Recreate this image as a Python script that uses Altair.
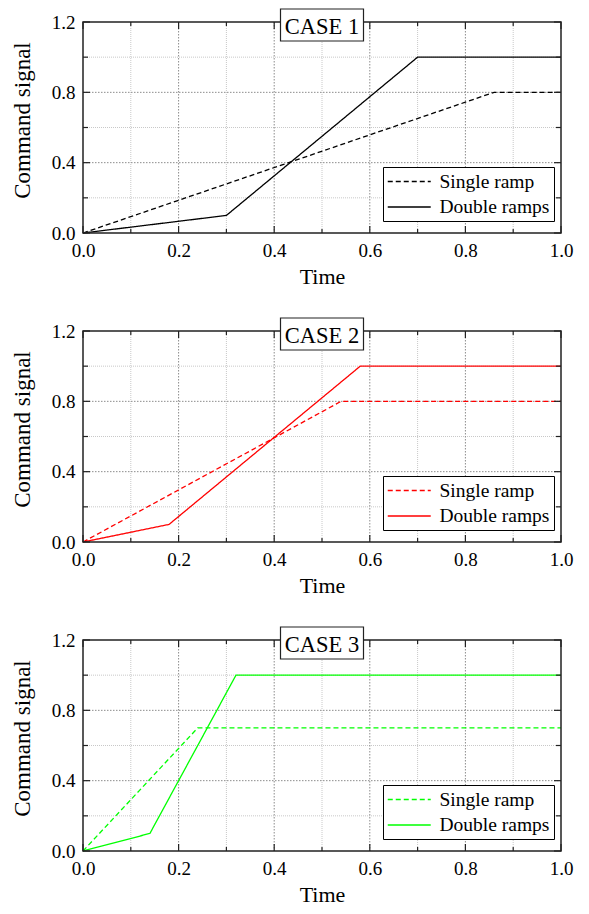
import altair as alt
import pandas as pd

# ---- data ----
time_ticks_major = [0.0, 0.2, 0.4, 0.6, 0.8, 1.0]
time_ticks_minor = [0.1, 0.3, 0.5, 0.7, 0.9]
signal_ticks_major = [0.0, 0.4, 0.8, 1.2]
signal_ticks_minor = [0.2, 0.6, 1.0]
grid_time_major = [0.2, 0.4, 0.6, 0.8]
grid_signal_major = [0.4, 0.8]

case_titles = ["CASE 1", "CASE 2", "CASE 3"]
case_colors = ["#000000", "#ff0000", "#00ff00"]
series_names = ["Single ramp", "Double ramps"]

single_time = [[0.0, 0.86, 1.0], [0.0, 0.54, 1.0], [0.0, 0.24, 1.0]]
single_signal = [[0.0, 0.8, 0.8], [0.0, 0.8, 0.8], [0.0, 0.7, 0.7]]
double_time = [[0.0, 0.30, 0.70, 1.0], [0.0, 0.18, 0.58, 1.0], [0.0, 0.14, 0.32, 1.0]]
double_signal = [[0.0, 0.1, 1.0, 1.0], [0.0, 0.1, 1.0, 1.0], [0.0, 0.1, 1.0, 1.0]]

W, H = 478, 211
FONT = "Liberation Serif, Times New Roman, serif"

xs = alt.Scale(domain=[0, 1], nice=False, zero=False)
ys = alt.Scale(domain=[0, 1.2], nice=False, zero=False)

x_axis = alt.Axis(
    orient="bottom", values=time_ticks_major, format=".1f", title="Time",
    grid=False, ticks=False, domain=False, labelPadding=23,
    labelBaseline="alphabetic", labelFlush=False, labelOverlap=False,
    labelFontSize=19, titleFontSize=22, titleY=50, titleBaseline="alphabetic")
y_axis = alt.Axis(
    orient="left", values=signal_ticks_major, format=".1f", title="Command signal",
    grid=False, ticks=False, domain=False, labelPadding=8,
    labelFlush=False, labelOverlap=False, labelFontSize=19,
    titleFontSize=23, titleX=-54, titleY=98, titleBaseline="alphabetic")


def xrules(vals, y1, y2, **style):
    return alt.Chart(pd.DataFrame({"time": vals})).mark_rule(**style).encode(
        x=alt.X("time:Q", scale=xs, axis=x_axis), y=alt.value(y1), y2=alt.value(y2))


def yrules(vals, x1, x2, **style):
    return alt.Chart(pd.DataFrame({"signal": vals})).mark_rule(**style).encode(
        y=alt.Y("signal:Q", scale=ys, axis=y_axis), x=alt.value(x1), x2=alt.value(x2))


def panel(i):
    color = case_colors[i]
    rows = []
    for t, v in zip(single_time[i], single_signal[i]):
        rows.append({"time": t, "signal": v, "series": series_names[0]})
    for t, v in zip(double_time[i], double_signal[i]):
        rows.append({"time": t, "signal": v, "series": series_names[1]})
    df = pd.DataFrame(rows)

    minor_style = dict(color="#c8c8c8", strokeDash=[1, 1], strokeWidth=1)
    major_style = dict(color="#8c8c8c", strokeDash=[1.5, 1.5], strokeWidth=1)
    tick_style = dict(color="#222222", strokeWidth=1.2)

    layers = [
        xrules(time_ticks_minor, 0, H, **minor_style),
        yrules(signal_ticks_minor, 0, W, **minor_style),
        xrules(grid_time_major, 0, H, **major_style),
        yrules(grid_signal_major, 0, W, **major_style),
    ]

    lines = alt.Chart(df).mark_line(strokeWidth=1.3, color=color).encode(
        x=alt.X("time:Q", scale=xs, axis=x_axis),
        y=alt.Y("signal:Q", scale=ys, axis=y_axis),
        strokeDash=alt.StrokeDash("series:N", scale=alt.Scale(
            domain=series_names, range=[[5, 3], [1, 0]]), legend=alt.Legend(
            title=None, orient="none", legendX=300, legendY=145, direction="vertical",
            symbolType="M-1,0H3.41", symbolSize=380, symbolStrokeColor=color,
            symbolStrokeWidth=1.4, symbolOpacity=1, labelFont=FONT, labelFontSize=19.5,
            labelColor="black", labelOffset=31.5, rowPadding=5.5, padding=4,
            strokeColor="black", fillColor="white")),
    )
    layers.append(lines)

    frame = alt.Chart(pd.DataFrame({"f": [0]})).mark_rect(
        fill=None, stroke="#222222", strokeWidth=1.5).encode(
        x=alt.value(0), x2=alt.value(W), y=alt.value(0), y2=alt.value(H))
    layers.append(frame)

    layers += [
        xrules(time_ticks_major, H, H - 7, **tick_style),
        xrules(time_ticks_minor, H, H - 4, **tick_style),
        xrules(time_ticks_major, 0, 7, **tick_style),
        xrules(time_ticks_minor, 0, 4, **tick_style),
        yrules(signal_ticks_major, 0, 7, **tick_style),
        yrules(signal_ticks_minor, 0, 5, **tick_style),
        yrules(signal_ticks_major, W, W - 7, **tick_style),
        yrules(signal_ticks_minor, W, W - 5, **tick_style),
    ]

    tdf = pd.DataFrame({"label": [case_titles[i]]})
    box = alt.Chart(tdf).mark_rect(fill="white", stroke="#222222", strokeWidth=1.2).encode(
        x=alt.value(W / 2 - 41.5), x2=alt.value(W / 2 + 41.5),
        y=alt.value(-13), y2=alt.value(19))
    txt = alt.Chart(tdf).mark_text(font=FONT, fontSize=22.5, color="black",
                                   baseline="alphabetic", align="center").encode(
        x=alt.value(W / 2), y=alt.value(11.5), text="label:N")
    layers += [box, txt]

    return alt.layer(*layers).properties(width=W, height=H)


chart = alt.vconcat(*[panel(i) for i in range(3)], spacing=98, bounds="flush").resolve_scale(
    strokeDash="independent", x="independent", y="independent"
).resolve_legend(strokeDash="independent").properties(
    padding={"left": 2, "top": 0, "right": 5, "bottom": 0}
).configure_view(stroke=None).configure_axis(
    labelFont=FONT, titleFont=FONT, labelColor="black", titleColor="black",
    titleFontWeight="normal"
)

chart.save("out.html", embed_options={"renderer": "svg", "actions": False})
